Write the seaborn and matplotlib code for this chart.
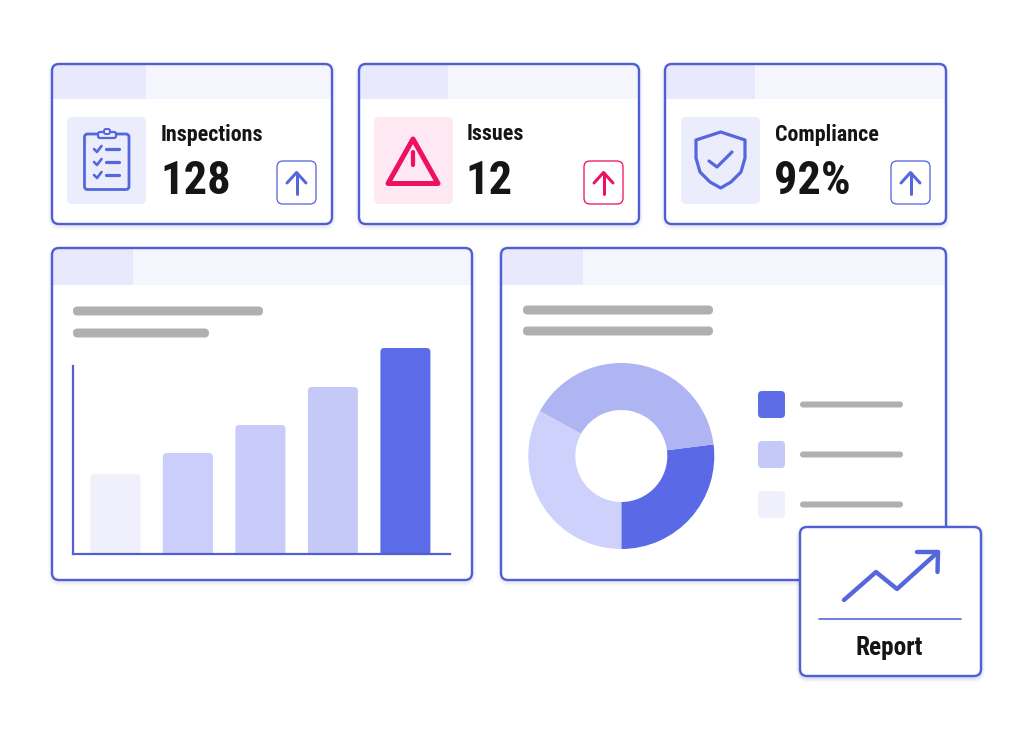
import matplotlib
matplotlib.use("Agg")
import matplotlib.pyplot as plt
from matplotlib.patches import FancyBboxPatch, Polygon
import seaborn as sns
import pandas as pd

# ---- data ----
bar_labels = ["A", "B", "C", "D", "E"]
bar_values = [80, 101, 129, 167, 206]
bar_colors = ["#F0F0FD", "#CBCEFA", "#C9CCFA", "#C5C9F8", "#5C6CE8"]
donut_values = [27, 40, 33]
donut_colors = ["#5A6AE6", "#AEB5F2", "#CDD1FB"]
legend_colors = ["#5C6DE6", "#C5C9F8", "#F0F0FD"]
kpi_titles = ["Inspections", "Issues", "Compliance"]
kpi_values = ["128", "12", "92%"]
report_label = "Report"

BLUE = "#5060D4"
ICON = "#5567DC"
PINK = "#EE1163"
GREY = "#B0B0B0"
INK = "#151515"

sns.set_theme(style="white")
plt.rcParams["font.family"] = ["Roboto Condensed", "Roboto", "DejaVu Sans"]
title_size, value_size, report_size = 15.8, 33.5, 18.3

fig = plt.figure(figsize=(10.24, 7.5), dpi=100, facecolor="white")
W, H = 1024, 750
ax = fig.add_axes([0, 0, 1, 1])
ax.set_xlim(0, W)
ax.set_ylim(H, 0)
ax.axis("off")
px = 0.72


def rrect(x0, y0, x1, y1, r, **kw):
    p = FancyBboxPatch((x0, y0), x1 - x0, y1 - y0,
                       boxstyle=f"round,pad=0,rounding_size={r}", **kw)
    ax.add_patch(p)
    return p


def card(x0, y0, x1, y1, band=None, split=None, z=1, shadow=0.022):
    for i in range(5, 0, -1):
        rrect(x0 - i + 1, y0 - i + 3, x1 + i - 1, y1 + i + 1, 7 + i, fc="#3A46A8", ec="none",
              alpha=shadow, zorder=z)
    base = rrect(x0, y0, x1, y1, 7, fc="white", ec="none", zorder=z + 0.1)
    if band:
        a = ax.fill_between([x0, x1], y0, band, color="#F5F5FE", lw=0, zorder=z + 0.2)
        b = ax.fill_between([x0, split], y0, band, color="#E8E9FC", lw=0, zorder=z + 0.3)
        a.set_clip_path(base)
        b.set_clip_path(base)
    rrect(x0, y0, x1, y1, 7, fc="none", ec=BLUE, lw=2.4 * px, zorder=z + 0.4)


def stroke(xs, ys, color=ICON, lw=3, z=4):
    ax.plot(xs, ys, color=color, lw=lw * px, solid_capstyle="round",
            solid_joinstyle="round", zorder=z)


def arrow(cx, box_color, color):
    rrect(cx - 19.5, 161, cx + 19.5, 204, 6, fc="white", ec=box_color, lw=1.3 * px, zorder=4)
    stroke([cx, cx], [173, 194], color)
    stroke([cx - 9.5, cx, cx + 9.5], [183, 172.5, 183], color)


# KPI cards
kpi_x = [(52, 332), (359, 639), (665, 946)]
band_split = [146, 448, 755]
icon_x = [67, 374, 681]
title_x = [161, 467, 775]
value_x = [160, 465, 774]
arrow_x = [296.5, 603.5, 910.5]
icon_bg = ["#EBECFC", "#FEE8F2", "#EBECFC"]
for i in range(3):
    card(kpi_x[i][0], 64, kpi_x[i][1], 224, band=99, split=band_split[i])
    rrect(icon_x[i], 117, icon_x[i] + 79, 204, 5, fc=icon_bg[i], ec="none", zorder=3)
    ax.text(title_x[i], 140.5, kpi_titles[i], fontsize=title_size, fontweight="bold", color=INK, zorder=5)
    ax.text(value_x[i], 194.5, kpi_values[i], fontsize=value_size, fontweight="bold", color=INK, zorder=5)
    arrow(arrow_x[i], PINK if i == 1 else ICON, PINK if i == 1 else ICON)

# clipboard icon
rrect(84.5, 134, 129, 189.5, 3, fc="none", ec=ICON, lw=2.8 * px, zorder=4)
rrect(98, 132, 116, 138, 2, fc="#EBECFC", ec=ICON, lw=2.2 * px, zorder=5)
rrect(104, 129, 110, 134, 2, fc="#EBECFC", ec=ICON, lw=2 * px, zorder=5)
for y in (149, 162, 175):
    stroke([94, 97, 101.5], [y, y + 3, y - 3], lw=2.6)
    stroke([106, 118.5], [y, y], lw=3.2)

# warning icon
ax.add_patch(Polygon([(413, 139), (388, 183.5), (438, 183.5)], closed=True, fc="none", ec=PINK,
                     lw=5 * px, joinstyle="round", zorder=4))
stroke([413, 413], [152, 165], PINK, 4.2)
stroke([413, 413], [174, 174.2], PINK, 5)

# shield icon
ax.add_patch(Polygon([(720.7, 132), (696, 140), (696, 158), (700, 172), (710, 182), (720.7, 188),
                      (731, 182), (741, 172), (745, 158), (745, 140)], closed=True, fc="none",
                     ec=ICON, lw=3.2 * px, joinstyle="round", zorder=4))
stroke([709, 717, 732], [161, 167, 152], ICON, 3.2)

# chart cards
card(52, 248, 472, 580, band=285, split=133)
card(501, 248, 946, 580, band=285, split=583)
for x0, x1, y in [(73, 263, 311), (73, 209, 333), (523, 713, 310), (523, 713, 331)]:
    rrect(x0, y - 4.5, x1, y + 4.5, 4.5, fc=GREY, ec="none", zorder=4)

# bar chart: px geometry of the plotting area
bx = fig.add_axes([73 / W, 1 - 554 / H, (450 - 73) / W, (554 - 348) / H], facecolor="none")
df = pd.DataFrame({"label": bar_labels, "value": bar_values})
sns.barplot(data=df, x="label", y="value", hue="label", palette=bar_colors, legend=False,
            width=0.69, ax=bx, saturation=1)
bx.set_xlim(-0.585, 4.615)
bx.set_ylim(0, 206)
bx.set_xlabel("")
bx.set_ylabel("")
bx.set_xticks([])
bx.set_yticks([])
for s in ("top", "right"):
    bx.spines[s].set_visible(False)
for s in ("left", "bottom"):
    bx.spines[s].set_color(BLUE)
    bx.spines[s].set_linewidth(2.2 * px)
bx.spines["left"].set_bounds(0, 188)
# give each seaborn bar the soft rounded corners of the reference
for bar in list(bx.patches):
    bx.add_patch(FancyBboxPatch((bar.get_x(), -20), bar.get_width(), bar.get_height() + 20,
                                boxstyle="round,pad=0,rounding_size=0.055", mutation_aspect=72.5,
                                fc=bar.get_facecolor(), ec="none", zorder=bar.get_zorder()))
    bar.set_visible(False)

# donut
R = 93
dx = fig.add_axes([(621.3 - R) / W, 1 - (456 + R) / H, 2 * R / W, 2 * R / H], facecolor="none")
dx.pie(donut_values, colors=donut_colors, startangle=-90, counterclock=True, radius=1,
       wedgeprops=dict(width=47 / R, lw=0))
dx.set_xlim(-1, 1)
dx.set_ylim(-1, 1)

# legend
for y, c in zip((404.5, 454.5, 504.5), legend_colors):
    rrect(758, y - 13.5, 785, y + 13.5, 4, fc=c, ec="none", zorder=4)
    rrect(800, y - 3, 903, y + 3, 3, fc=GREY, ec="none", zorder=4)

# report card (sits on top of the donut card)
card(800, 527, 981, 676, z=10, shadow=0.04)
stroke([844, 876, 897, 938], [600, 572, 589, 552], ICON, 4.4, z=11)
stroke([917, 938, 937.5], [552, 552, 572], ICON, 4.4, z=11)
ax.plot([819, 961], [619, 619], color=BLUE, lw=1.6 * px, zorder=11)
ax.text(889, 655, report_label, fontsize=report_size, fontweight="bold", color=INK, ha="center", zorder=12)

fig.savefig("out.png", dpi=100, facecolor="white")
